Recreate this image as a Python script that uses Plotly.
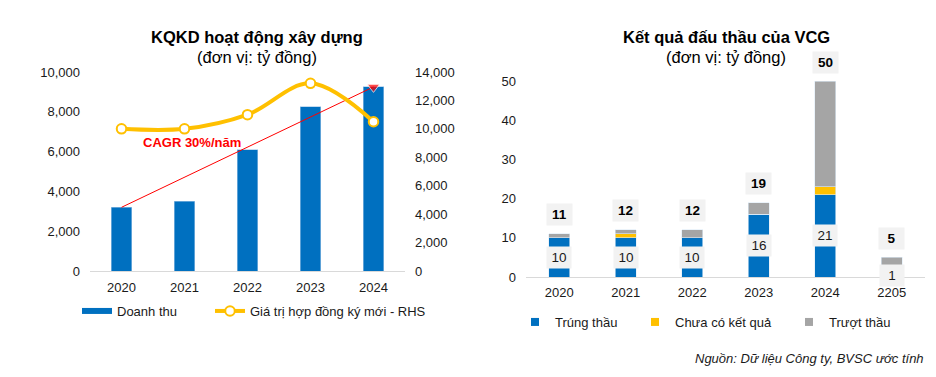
import plotly.graph_objects as go

# ---------------- data ----------------
years = ["2020", "2021", "2022", "2023", "2024"]
revenue = [3200, 3500, 6100, 8250, 9250]            # Doanh thu (LHS)
new_contracts = [10000, 10000, 11000, 13200, 10500]  # Giá trị hợp đồng ký mới (RHS)
cagr_years = ["2020", "2024"]
cagr_values = [3200, 9250]

bid_years = ["2020", "2021", "2022", "2023", "2024", "2205"]
won = [10, 10, 10, 16, 21, 1]       # Trúng thầu
pending = [0, 1, 0, 0, 2, 1]        # Chưa có kết quả
lost = [1, 1, 2, 3, 27, 3]          # Trượt thầu
totals = [w + p + l for w, p, l in zip(won, pending, lost)]

left_ticks = [0, 2000, 4000, 6000, 8000, 10000]
right_ticks = [0, 2000, 4000, 6000, 8000, 10000, 12000, 14000]
bid_ticks = [0, 10, 20, 30, 40, 50]

# ---------------- style ----------------
W, H = 936, 377
OFF = 8  # page body margin offset of the plot div
BLUE = "#0070C0"
YELLOW = "#FFC000"
GREY = "#A5A5A5"
RED = "#FF0000"
TXT = "#1a1a1a"
FONT = "Liberation Sans, Arial, sans-serif"


def fx(x):
    return (x - OFF) / W


def fy(y):
    return 1 - (y - OFF) / H


fig = go.Figure()

# ---- left chart ----
fig.add_trace(go.Bar(x=years, y=revenue, marker=dict(color=BLUE, line=dict(color="#9DC3E6", width=0.6)),
                     xaxis="x", yaxis="y", showlegend=False, name="Doanh thu"))
fig.add_trace(go.Scatter(x=cagr_years, y=cagr_values, mode="lines+markers", xaxis="x", yaxis="y",
                         line=dict(color=RED, width=1),
                         marker=dict(symbol=["circle", "triangle-down"], size=[0, 11], color=RED),
                         showlegend=False, hoverinfo="skip"))
fig.add_trace(go.Scatter(x=[None], y=[None], mode="lines", xaxis="x", yaxis="y",
                         line=dict(color=BLUE, width=6), name="Doanh thu",
                         legend="legend", legendwidth=88))
fig.add_trace(go.Scatter(x=years, y=new_contracts, mode="lines+markers", xaxis="x", yaxis="y2",
                         line=dict(color=YELLOW, width=4, shape="spline", smoothing=1),
                         marker=dict(size=9.5, color="white", line=dict(color=YELLOW, width=2)),
                         name="Giá trị hợp đồng ký mới - RHS", legend="legend"))

# ---- right chart ----
for vals, col, nm, lw in [(won, BLUE, "Trúng thầu", 75),
                          (pending, YELLOW, "Chưa có kết quả", 109),
                          (lost, GREY, "Trượt thầu", 80)]:
    fig.add_trace(go.Bar(x=bid_years, y=vals, marker=dict(color=col, line=dict(color="#DDEBF7", width=0.6)),
                         xaxis="x2", yaxis="y3", showlegend=False, name=nm))
    fig.add_trace(go.Scatter(x=[None], y=[None], mode="markers", xaxis="x2", yaxis="y3",
                             marker=dict(symbol="square", size=8, color=col), name=nm,
                             legend="legend2", legendwidth=lw))

annotations = []
# titles
for cx, title in [(257, "KQKD hoạt động xây dựng"), (726, "Kết quả đấu thầu của VCG")]:
    annotations.append(dict(x=fx(cx), y=fy(37), xref="paper", yref="paper", text="<b>" + title + "</b>",
                            showarrow=False, xanchor="center", yanchor="middle",
                            font=dict(size=16.5, color="black", family=FONT)))
    annotations.append(dict(x=fx(cx), y=fy(57), xref="paper", yref="paper", text="(đơn vị: tỷ đồng)",
                            showarrow=False, xanchor="center", yanchor="middle",
                            font=dict(size=16.5, color="black", family=FONT)))
# CAGR text
annotations.append(dict(x=fx(141), y=fy(143), xref="paper", yref="paper", text="<b>CAGR 30%/năm</b>",
                        showarrow=False, xanchor="left", yanchor="middle",
                        font=dict(size=13, color=RED, family=FONT)))
# source
annotations.append(dict(x=fx(926), y=fy(358), xref="paper", yref="paper",
                        text="<i>Nguồn: Dữ liệu Công ty, BVSC ước tính</i>",
                        showarrow=False, xanchor="right", yanchor="middle",
                        font=dict(size=13, color=TXT, family=FONT)))
# data labels (x given as category index on the category axis)
for i, t in enumerate(totals):
    annotations.append(dict(x=i, y=t, xref="x2", yref="y3", text="<b>%d</b>" % t, showarrow=False,
                            yshift=19, xanchor="center", yanchor="middle", bgcolor="#F2F2F2",
                            borderpad=3, width=19, font=dict(size=13.5, color="black", family=FONT)))
for i, w in enumerate(won):
    annotations.append(dict(x=i, y=w / 2, xref="x2", yref="y3", text="%d" % w, showarrow=False,
                            xanchor="center", yanchor="middle", bgcolor="#F2F2F2",
                            borderpad=3, width=18, font=dict(size=13.5, color=TXT, family=FONT)))

axis_common = dict(showgrid=False, zeroline=False, automargin=False,
                   tickfont=dict(size=13, color=TXT, family=FONT))

fig.update_layout(
    width=W, height=H, autosize=False,
    margin=dict(l=0, r=0, t=0, b=0, autoexpand=False),
    paper_bgcolor="white", plot_bgcolor="white",
    font=dict(family=FONT, size=13, color=TXT),
    barmode="stack", bargap=0.68,
    xaxis=dict(domain=[fx(90), fx(405)], anchor="y", type="category", showline=True,
               linecolor="#D9D9D9", linewidth=1, ticks="", ticklabelstandoff=4, **axis_common),
    yaxis=dict(domain=[fy(271), fy(72)], anchor="x", range=[0, 10000], tickvals=left_ticks,
               tickformat=",", showline=False, ticks="", ticklabelstandoff=9, **axis_common),
    yaxis2=dict(overlaying="y", side="right", anchor="x", range=[0, 14000], tickvals=right_ticks,
                tickformat=",", showline=False, ticks="", ticklabelstandoff=9, **axis_common),
    xaxis2=dict(domain=[fx(526), fx(925)], anchor="y3", type="category", showline=True,
                range=[-0.5, len(bid_years) - 0.5],
                linecolor="#D9D9D9", linewidth=1, ticks="", ticklabelstandoff=3, **axis_common),
    yaxis3=dict(domain=[fy(277), fy(81)], anchor="x2", range=[0, 50], tickvals=bid_ticks,
                showline=False, ticks="", ticklabelstandoff=9, **axis_common),
    legend=dict(orientation="h", x=fx(77), y=fy(311), xanchor="left", yanchor="middle",
                bgcolor="rgba(0,0,0,0)", font=dict(size=13, color=TXT, family=FONT),
                itemwidth=30, traceorder="normal"),
    legend2=dict(orientation="h", x=fx(515), y=fy(322), xanchor="left", yanchor="middle",
                 bgcolor="rgba(0,0,0,0)", font=dict(size=13, color=TXT, family=FONT),
                 itemwidth=30, traceorder="normal"),
    annotations=annotations,
)

fig.write_html("out.html")
